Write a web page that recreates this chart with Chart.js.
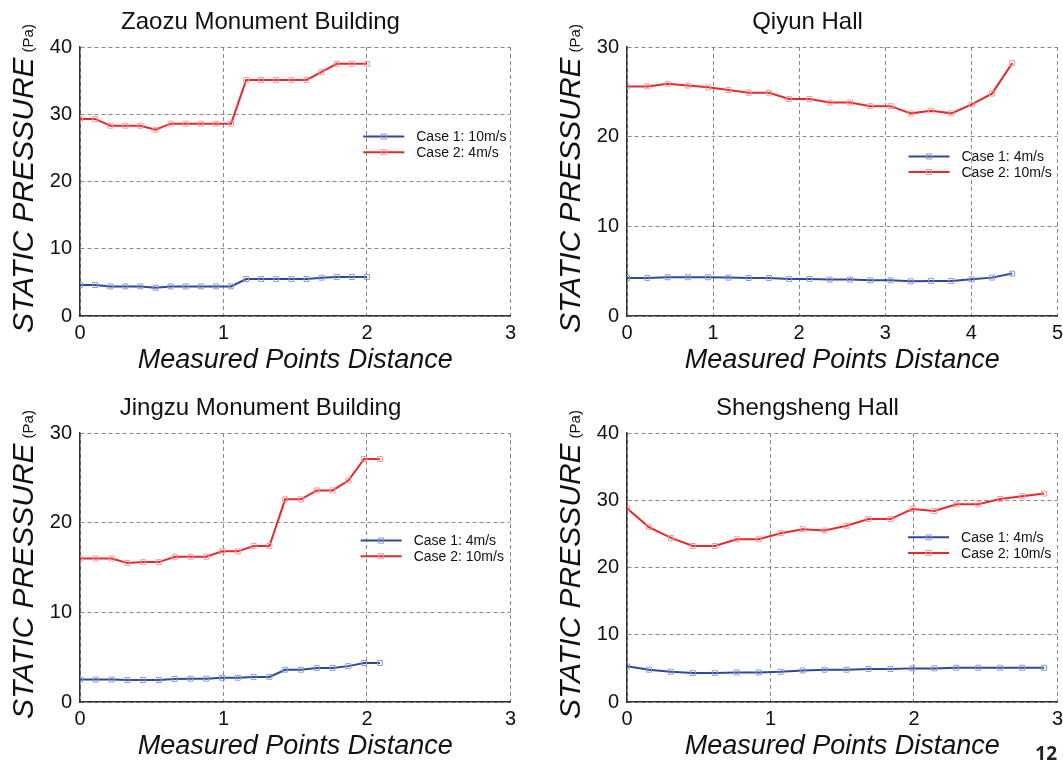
<!DOCTYPE html>
<html>
<head>
<meta charset="utf-8">
<script src="https://cdn.jsdelivr.net/npm/chart.js@4.4.0/dist/chart.umd.min.js"></script>
<style>
  body { margin: 0; background: #fff; width: 1063px; height: 777px; overflow: hidden; position: relative; }
  canvas { position: absolute; }
  #page { position: absolute; right: 6px; top: 740px; font: bold 19px "Open Sans", "DejaVu Sans", sans-serif; color: #222; }
</style>
</head>
<body>
<canvas id="c-zaozu" width="521" height="388" style="left:0;top:0"></canvas>
<canvas id="c-qiyun" width="521" height="388" style="left:547px;top:0"></canvas>
<canvas id="c-jingzu" width="521" height="388" style="left:0;top:386px"></canvas>
<canvas id="c-sheng" width="521" height="388" style="left:547px;top:386px"></canvas>
<div id="page">12</div>
<script>
// Zaozu Monument Building
const zaozuX = [0, 0.105, 0.211, 0.316, 0.421, 0.526, 0.632, 0.737, 0.842, 0.947, 1.053, 1.158, 1.263, 1.368, 1.474, 1.579, 1.684, 1.789, 1.895, 2.0];
const zaozuCase1 = [4.6, 4.6, 4.4, 4.4, 4.4, 4.2, 4.4, 4.4, 4.4, 4.4, 4.4, 5.5, 5.5, 5.5, 5.5, 5.5, 5.7, 5.8, 5.8, 5.8];
const zaozuCase2 = [29.3, 29.3, 28.3, 28.3, 28.3, 27.7, 28.6, 28.6, 28.6, 28.6, 28.6, 35.1, 35.1, 35.1, 35.1, 35.1, 36.3, 37.5, 37.5, 37.5];
const zaozuLabels = ['Case 1: 10m/s', 'Case 2: 4m/s'];

// Qiyun Hall
const qiyunX = [0, 0.236, 0.471, 0.707, 0.942, 1.178, 1.413, 1.649, 1.884, 2.12, 2.355, 2.591, 2.826, 3.062, 3.297, 3.533, 3.768, 4.004, 4.239, 4.475];
const qiyunCase1 = [4.24, 4.24, 4.32, 4.32, 4.32, 4.28, 4.24, 4.24, 4.13, 4.13, 4.06, 4.06, 3.98, 3.98, 3.87, 3.91, 3.91, 4.09, 4.28, 4.73];
const qiyunCase2 = [25.6, 25.6, 25.9, 25.7, 25.5, 25.2, 24.9, 24.9, 24.2, 24.2, 23.8, 23.8, 23.4, 23.4, 22.6, 22.9, 22.6, 23.6, 24.8, 28.2];
const qiyunLabels = ['Case 1: 4m/s', 'Case 2: 10m/s'];

// Jingzu Monument Building
const jingzuX = [0, 0.11, 0.22, 0.33, 0.44, 0.55, 0.66, 0.77, 0.88, 0.99, 1.1, 1.21, 1.32, 1.43, 1.54, 1.65, 1.76, 1.87, 1.98, 2.09];
const jingzuCase1 = [2.5, 2.5, 2.5, 2.45, 2.45, 2.45, 2.57, 2.6, 2.6, 2.7, 2.7, 2.8, 2.8, 3.6, 3.6, 3.8, 3.8, 4.0, 4.35, 4.35];
const jingzuCase2 = [16.0, 16.0, 16.0, 15.5, 15.6, 15.6, 16.2, 16.2, 16.2, 16.8, 16.8, 17.4, 17.4, 22.6, 22.6, 23.6, 23.6, 24.7, 27.1, 27.1];
const jingzuLabels = ['Case 1: 4m/s', 'Case 2: 10m/s'];

// Shengsheng Hall
const shengX = [0, 0.153, 0.306, 0.459, 0.612, 0.765, 0.918, 1.071, 1.224, 1.377, 1.53, 1.683, 1.836, 1.989, 2.142, 2.295, 2.448, 2.601, 2.754, 2.907];
const shengCase1 = [5.3, 4.8, 4.5, 4.3, 4.3, 4.4, 4.4, 4.5, 4.7, 4.8, 4.8, 4.9, 4.9, 5.0, 5.0, 5.1, 5.1, 5.1, 5.1, 5.1];
const shengCase2 = [28.8, 26.0, 24.4, 23.2, 23.2, 24.2, 24.2, 25.1, 25.7, 25.5, 26.2, 27.2, 27.2, 28.7, 28.4, 29.4, 29.4, 30.2, 30.6, 31.0];
const shengLabels = ['Case 1: 4m/s', 'Case 2: 10m/s'];

const FONT = '"Liberation Sans", Arial, sans-serif';
const BLUE = '#2c4a9c', BLUE_PT = '#8d9bd0';
const RED = '#e8292c', RED_PT = '#f29a9a';

// y axis title: italic "STATIC PRESSURE" + small "(Pa)"
const yTitlePlugin = {
  id: 'yTitle',
  afterDraw(chart) {
    const ctx = chart.ctx;
    const area = chart.chartArea;
    ctx.save();
    ctx.translate(33, area.bottom + 17);
    ctx.rotate(-Math.PI / 2);
    ctx.fillStyle = '#111';
    ctx.textBaseline = 'alphabetic';
    ctx.textAlign = 'left';
    ctx.font = 'italic 30px ' + FONT;
    const main = 'STATIC PRESSURE';
    ctx.fillText(main, 0, 0);
    const w = ctx.measureText(main).width;
    ctx.font = '15px ' + FONT;
    ctx.fillText('(Pa)', w + 5, 0);
    ctx.restore();
  }
};

// legend with line + marker, placed inside the plot
const caseLegendPlugin = {
  id: 'caseLegend',
  afterDraw(chart, args, opts) {
    const ctx = chart.ctx;
    const area = chart.chartArea;
    const x0 = area.left + opts.fx * area.width;
    let y = area.top + opts.fy * area.height;
    chart.data.datasets.forEach(ds => {
      ctx.save();
      ctx.strokeStyle = ds.borderColor;
      ctx.lineWidth = 2;
      ctx.beginPath();
      ctx.moveTo(x0, y);
      ctx.lineTo(x0 + 41, y);
      ctx.stroke();
      ctx.strokeStyle = ds.pointBorderColor;
      ctx.lineWidth = 1;
      ctx.strokeRect(x0 + 18, y - 2.5, 5, 5);
      ctx.fillStyle = '#111';
      ctx.font = '14px ' + FONT;
      ctx.textBaseline = 'middle';
      ctx.fillText(ds.label, x0 + 53, y + 1);
      ctx.restore();
      y += 15.6;
    });
  }
};

function toPoints(xs, ys) {
  return xs.map((x, i) => ({ x: x, y: ys[i] }));
}

function makeChart(id, title, xs, case1, case2, labels, xMax, yMax, legendPos) {
  const ctx = document.getElementById(id).getContext('2d');
  return new Chart(ctx, {
    type: 'line',
    data: {
      datasets: [
        {
          label: labels[0],
          data: toPoints(xs, case1),
          borderColor: BLUE,
          borderWidth: 2,
          pointStyle: 'rect',
          pointRadius: 3.5,
          pointBorderColor: BLUE_PT,
          pointBackgroundColor: 'rgba(0,0,0,0)',
          pointBorderWidth: 1,
          tension: 0
        },
        {
          label: labels[1],
          data: toPoints(xs, case2),
          borderColor: RED,
          borderWidth: 2,
          pointStyle: 'rect',
          pointRadius: 3.5,
          pointBorderColor: RED_PT,
          pointBackgroundColor: 'rgba(0,0,0,0)',
          pointBorderWidth: 1,
          tension: 0
        }
      ]
    },
    options: {
      responsive: false,
      animation: false,
      layout: { padding: 0 },
      plugins: {
        legend: { display: false },
        tooltip: { enabled: false },
        title: {
          display: true,
          text: title,
          color: '#111',
          font: { family: FONT, size: 24, weight: 'normal' },
          padding: { top: 8, bottom: 10.2 }
        },
        caseLegend: legendPos
      },
      scales: {
        x: {
          type: 'linear',
          min: 0,
          max: xMax,
          ticks: { stepSize: 1, color: '#111', padding: 5, font: { family: FONT, size: 20 } },
          grid: { color: '#8a8a8a', drawTicks: false },
          border: { color: '#333', width: 1.5, dash: [4, 3] },
          title: {
            display: true,
            text: 'Measured Points Distance',
            color: '#111',
            font: { family: FONT, size: 27, style: 'italic' },
            padding: { top: 0, bottom: 11 }
          },
          afterFit(scale) { scale.height = 72; }
        },
        y: {
          min: 0,
          max: yMax,
          ticks: { stepSize: 10, color: '#111', padding: 8, font: { family: FONT, size: 20 } },
          grid: { color: '#8a8a8a', drawTicks: false },
          border: { color: '#333', width: 1.5, dash: [4, 3] },
          afterFit(scale) { scale.width = 80; }
        }
      }
    },
    plugins: [yTitlePlugin, caseLegendPlugin]
  });
}

makeChart('c-zaozu', 'Zaozu Monument Building', zaozuX, zaozuCase1, zaozuCase2, zaozuLabels, 3, 40, { fx: 0.658, fy: 0.333 });
makeChart('c-qiyun', 'Qiyun Hall', qiyunX, qiyunCase1, qiyunCase2, qiyunLabels, 5, 30, { fx: 0.654, fy: 0.407 });
makeChart('c-jingzu', 'Jingzu Monument Building', jingzuX, jingzuCase1, jingzuCase2, jingzuLabels, 3, 30, { fx: 0.652, fy: 0.40 });
makeChart('c-sheng', 'Shengsheng Hall', shengX, shengCase1, shengCase2, shengLabels, 3, 40, { fx: 0.653, fy: 0.388 });
</script>
</body>
</html>
